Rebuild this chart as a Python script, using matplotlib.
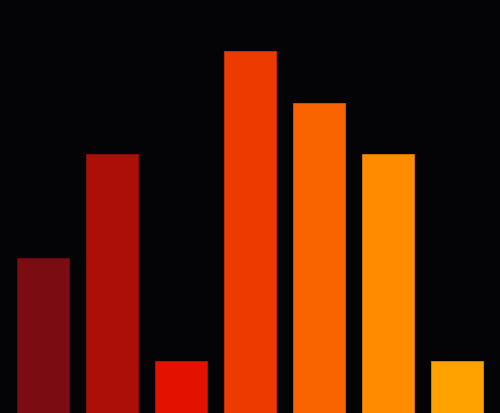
import matplotlib.pyplot as plt
import numpy as np

# Valores de las barras
categories = ['A', 'B', 'C', 'D', 'E', 'F', 'G']
values = [3, 5, 1, 7, 6, 5, 1]
colors = ['#7a0c12', '#ab0f08', '#e31200', '#ec3a00', '#fa6400', '#ff8c00', '#ffa200']
edges = ['#6e0a0f', '#9c0d07', '#d41000', '#dc3400', '#e85c00', '#f08200', '#f09600']

fig = plt.figure(figsize=(5, 4.14), dpi=100, facecolor='#040406')
ax = fig.add_axes([0, 0, 1, 1])
ax.set_facecolor('#040406')

x = np.arange(len(categories))
ax.bar(x, values, width=0.745, color=colors, edgecolor=edges, linewidth=0.5)

ax.set_xlim(-0.62, 6.62)
ax.set_ylim(0, 8)
ax.axis('off')

fig.savefig('out.png', dpi=100, facecolor=fig.get_facecolor())
